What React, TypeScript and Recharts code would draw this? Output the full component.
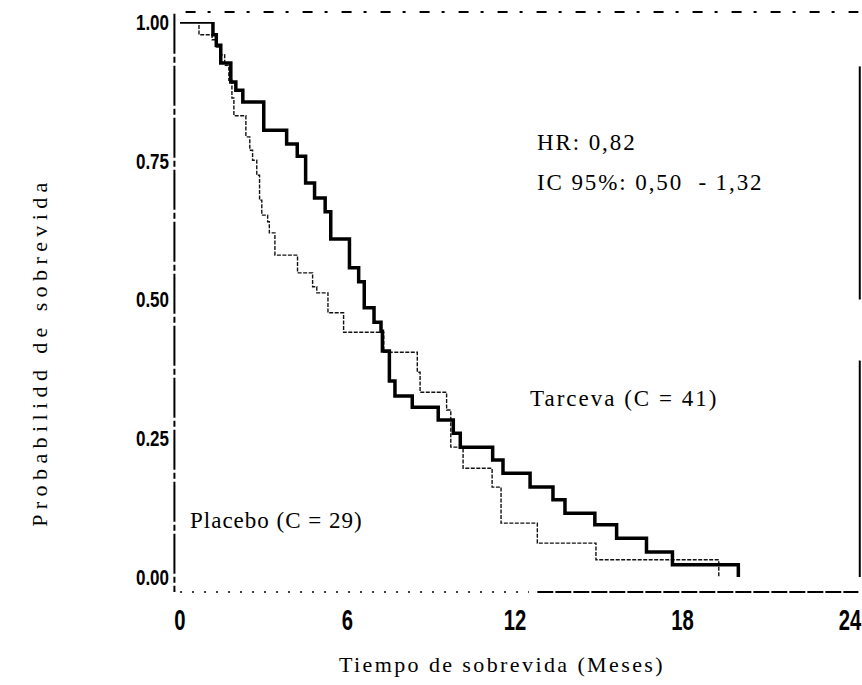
import React from "react";
import { LineChart, Line, XAxis, YAxis, ReferenceLine } from "recharts";

// Kaplan-Meier steps
const tarcevaTime = [0, 1.18, 1.3, 1.46, 1.82, 2.0, 2.25, 3.0, 3.82, 4.2, 4.5, 4.82, 5.2, 5.4, 6.07, 6.4, 6.6, 6.95, 7.2, 7.25, 7.5, 7.7, 8.32, 9.25, 9.79, 10.04, 11.2, 11.57, 12.54, 13.36, 13.79, 14.86, 15.64, 16.71, 17.64, 20.0];
const tarcevaSurv = [1.0, 0.977, 0.958, 0.926, 0.892, 0.877, 0.856, 0.805, 0.78, 0.758, 0.71, 0.683, 0.658, 0.609, 0.557, 0.532, 0.485, 0.459, 0.443, 0.407, 0.353, 0.326, 0.306, 0.283, 0.259, 0.234, 0.211, 0.187, 0.162, 0.139, 0.115, 0.094, 0.07, 0.045, 0.022, 0.0];

const placeboTime = [0, 0.68, 1.15, 1.3, 1.43, 1.6, 1.75, 1.86, 1.93, 2.36, 2.5, 2.6, 2.75, 2.85, 2.93, 3.14, 3.2, 3.4, 4.21, 4.75, 4.9, 5.3, 5.86, 7.3, 8.5, 8.6, 9.55, 9.7, 10.14, 11.18, 11.5, 12.8, 14.9, 19.3];
const placeboSurv = [1.0, 0.977, 0.968, 0.955, 0.941, 0.922, 0.895, 0.863, 0.831, 0.793, 0.769, 0.751, 0.724, 0.679, 0.652, 0.64, 0.62, 0.58, 0.548, 0.523, 0.512, 0.476, 0.441, 0.405, 0.369, 0.333, 0.301, 0.234, 0.196, 0.162, 0.097, 0.061, 0.031, 0.0];

const xTicks = [0, 6, 12, 18, 24];
const yTicks = [0, 0.25, 0.5, 0.75, 1.0];

const xTitle = "Tiempo de sobrevida (Meses)";
const yTitle = "Probabilidd de sobrevida";
const hrText = "HR: 0,82";
const icText = "IC 95%: 0,50  - 1,32";
const tarcevaLabel = "Tarceva (C = 41)";
const placeboLabel = "Placebo (C = 29)";

const tarcevaData = tarcevaTime.map((t, i) => ({ t, s: tarcevaSurv[i] }));
const placeboData = placeboTime.map((t, i) => ({ t, s: placeboSurv[i] }));

const tickFont = "'Liberation Sans', Arial, sans-serif";
const serif = "'Liberation Serif', 'Times New Roman', serif";

const YTick = (props: any) => {
  const { x, y, payload } = props;
  return (
    <text
      transform={`translate(${x},${y}) scale(0.85,1.1)`}
      textAnchor="end"
      dominantBaseline="central"
      style={{ fontFamily: tickFont, fontWeight: 700, fontSize: 20 }}
      fill="#000"
    >
      {Number(payload.value).toFixed(2)}
    </text>
  );
};

const XTick = (props: any) => {
  const { x, y, payload } = props;
  return (
    <text
      transform={`translate(${x},${y}) scale(0.75,1.1)`}
      textAnchor="middle"
      dominantBaseline="central"
      style={{ fontFamily: tickFont, fontWeight: 700, fontSize: 27 }}
      fill="#000"
    >
      {String(payload.value)}
    </text>
  );
};

const annStyle = { fontFamily: serif, fontSize: 23, letterSpacing: 1.9, whiteSpace: "pre" as const };

export default function App() {
  return (
    <div style={{ width: 862, height: 685, background: "#fff" }}>
      <style>{"body{margin:0}"}</style>
      <LineChart
        width={862}
        height={685}
        margin={{ top: 22, right: 12, bottom: 68, left: 120 }}
      >
        <XAxis
          type="number"
          dataKey="t"
          domain={[0, 24]}
          ticks={xTicks}
          axisLine={false}
          tickLine={false}
          tickSize={0}
          tickMargin={42}
          height={40}
          allowDataOverflow
          tick={<XTick />}
        />
        <YAxis
          type="number"
          domain={[0, 1]}
          ticks={yTicks}
          axisLine={false}
          tickLine={false}
          tickSize={0}
          tickMargin={11}
          width={60}
          allowDataOverflow
          tick={<YTick />}
        />
        {/* frame lines */}
        <ReferenceLine
          segment={[{ x: -0.2, y: 1.015 }, { x: -0.2, y: -0.027 }]}
          ifOverflow="visible"
          stroke="#000"
          strokeWidth={2}
          strokeDasharray="40 3 6 3"
        />
        <ReferenceLine
          segment={[{ x: 0.2, y: 1.018 }, { x: 24.3, y: 1.018 }]}
          ifOverflow="visible"
          stroke="#000"
          strokeWidth={2}
          strokeDasharray="10 12 3 14"
        />
        <ReferenceLine
          segment={[{ x: 0, y: -0.027 }, { x: 12.5, y: -0.027 }]}
          ifOverflow="visible"
          stroke="#000"
          strokeWidth={1.5}
          strokeDasharray="2 10"
        />
        <ReferenceLine
          segment={[{ x: 12.8, y: -0.027 }, { x: 24.3, y: -0.027 }]}
          ifOverflow="visible"
          stroke="#000"
          strokeWidth={2}
          strokeDasharray="16 2"
        />
        <ReferenceLine
          segment={[{ x: 24.35, y: 0.92 }, { x: 24.35, y: 0.5 }]}
          ifOverflow="visible"
          stroke="#000"
          strokeWidth={2}
        />
        <ReferenceLine
          segment={[{ x: 24.35, y: 0.39 }, { x: 24.35, y: 0.0 }]}
          ifOverflow="visible"
          stroke="#000"
          strokeWidth={2}
        />
        <Line
          data={placeboData}
          dataKey="s"
          type="stepAfter"
          stroke="#111"
          strokeWidth={1.4}
          strokeDasharray="4 1.5"
          dot={false}
          activeDot={false}
          isAnimationActive={false}
        />
        <Line
          data={tarcevaData}
          dataKey="s"
          type="stepAfter"
          stroke="#000"
          strokeWidth={3.5}
          dot={false}
          activeDot={false}
          isAnimationActive={false}
        />
        <text x={537} y={150} style={annStyle} fill="#000">
          {hrText}
        </text>
        <text x={537} y={190} style={annStyle} fill="#000">
          {icText}
        </text>
        <text x={530} y={406} style={{ ...annStyle, letterSpacing: 2.0 }} fill="#000">
          {tarcevaLabel}
        </text>
        <text x={190} y={528} style={{ ...annStyle, letterSpacing: 1.0 }} fill="#000">
          {placeboLabel}
        </text>
        <text
          x={502}
          y={672}
          textAnchor="middle"
          style={{ fontFamily: serif, fontSize: 22, letterSpacing: 2.4 }}
          fill="#000"
        >
          {xTitle}
        </text>
        <text
          transform="translate(47,352) rotate(-90)"
          textAnchor="middle"
          style={{ fontFamily: serif, fontSize: 22, letterSpacing: 5.4 }}
          fill="#000"
        >
          {yTitle}
        </text>
      </LineChart>
    </div>
  );
}
